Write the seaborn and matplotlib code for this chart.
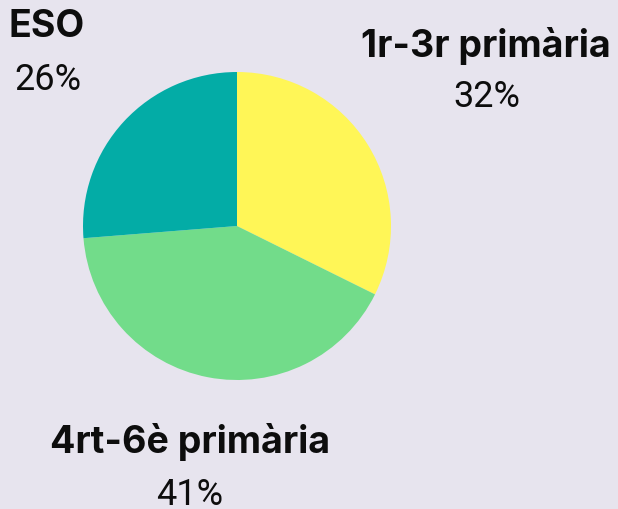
"""Pie chart of students by school stage"""

import matplotlib.pyplot as plt
import seaborn as sns

# data
stages = ['1r-3r primària', '4rt-6è primària', 'ESO']
shares = [32, 41, 26]
colors = ['#fff657', '#72dc8a', '#03aca6']

BG = '#e7e4ee'

sns.set_theme(style='white')
plt.rcParams['font.family'] = ['Inter', 'DejaVu Sans']

W, H = 618, 510
fig = plt.figure(figsize=(W / 100, H / 100), dpi=100, facecolor=BG)

# pie centre ~ (237, 227) px, radius ~154 px
cx, cy, r = 237, 227, 154
ax = fig.add_axes([(cx - r) / W, (H - cy - r) / H, 2 * r / W, 2 * r / H])
ax.set_facecolor(BG)
ax.pie(shares, colors=sns.color_palette(colors), startangle=90,
       counterclock=False, radius=1,
       wedgeprops=dict(linewidth=0))
ax.set_xlim(-1, 1)
ax.set_ylim(-1, 1)
ax.axis('off')

# labels (pixel positions of the text centres)
label_pos = {
    '1r-3r primària': ((486, 46), (487, 97)),
    '4rt-6è primària': ((190, 442), (190, 495)),
    'ESO': ((47, 27), (48, 80)),
}
for name, share in zip(stages, shares):
    (nx, ny), (px, py) = label_pos[name]
    fig.text(nx / W, 1 - ny / H, name, ha='center', va='center',
             fontsize=27, fontweight='bold', color='#0d0d0d')
    fig.text(px / W, 1 - py / H, f'{share}%', ha='center', va='center',
             fontsize=26, fontweight='normal', color='#0d0d0d',
             family=['Roboto', 'DejaVu Sans'])

fig.savefig('out.png', dpi=100, facecolor=BG)
